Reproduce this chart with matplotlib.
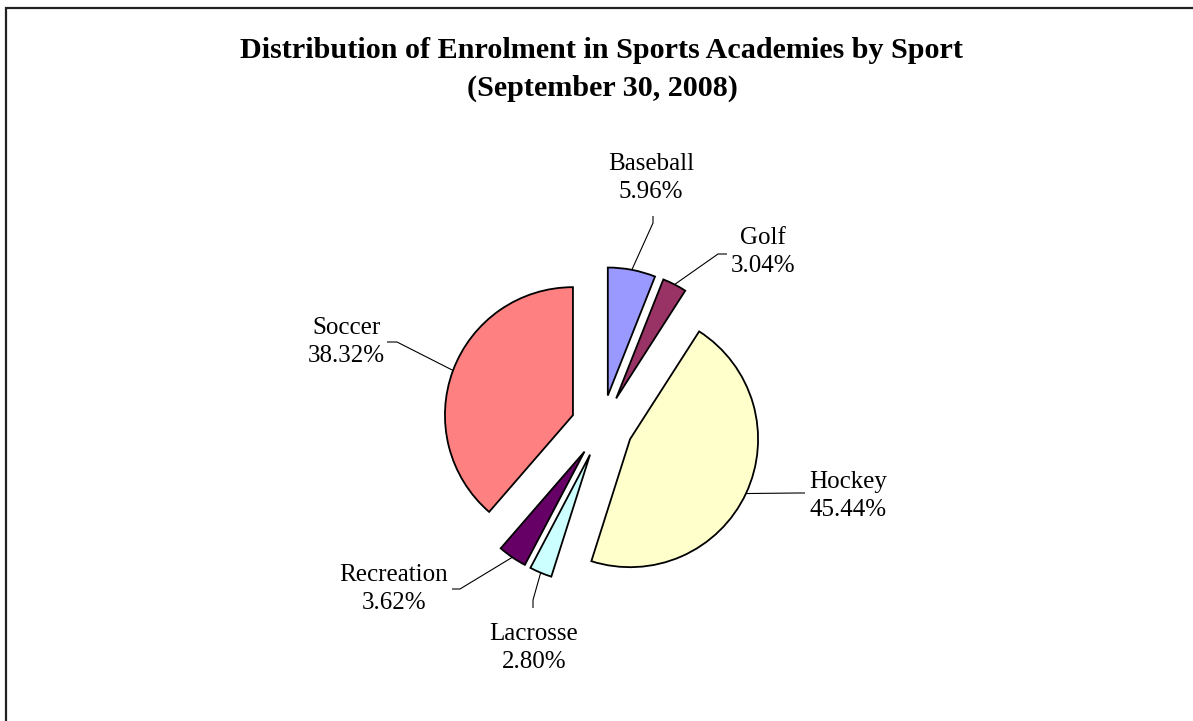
import matplotlib
matplotlib.use("Agg")
import matplotlib.pyplot as plt
import numpy as np
from matplotlib.patches import Rectangle

plt.rcParams["font.family"] = ["Liberation Serif", "DejaVu Serif"]

W, H = 1193, 721

sports = ["Baseball", "Golf", "Hockey", "Lacrosse", "Recreation", "Soccer"]
shares = [5.96, 3.04, 45.44, 2.80, 3.62, 38.32]
share_labels = ["5.96%", "3.04%", "45.44%", "2.80%", "3.62%", "38.32%"]
colors = ["#9999FF", "#993366", "#FFFFCC", "#CCFFFF", "#660066", "#FF8080"]

# layout, in image pixels (y measured down from the top)
PIE_CENTER = (602, 426)
PIE_RADIUS = 128
EXPLODE = 31
label_pos = {
    "Baseball": (651, 178), "Golf": (763, 252), "Hockey": (848, 496),
    "Lacrosse": (534, 648), "Recreation": (394, 589), "Soccer": (346, 342),
}
# leader line points from the text towards the wedge
leader_knees = {
    "Baseball": [(653, 216), (653, 223)],
    "Golf": [(727, 254), (718, 254)],
    "Hockey": [(805, 493), (798, 493)],
    "Lacrosse": [(533, 608), (533, 600)],
    "Recreation": [(452, 589), (460, 589)],
    "Soccer": [(387, 342), (397, 342)],
}


def flip(y):
    return H - y


fig = plt.figure(figsize=(W / 100, H / 100), dpi=100)
ax = fig.add_axes([0, 0, 1, 1])

wedges, _ = ax.pie(
    shares, colors=colors, startangle=90, counterclock=False,
    explode=[EXPLODE] * len(shares), radius=PIE_RADIUS,
    center=(PIE_CENTER[0], flip(PIE_CENTER[1])),
    wedgeprops=dict(edgecolor="black", linewidth=1.3),
)
ax.set_xlim(0, W)
ax.set_ylim(0, H)
ax.set_aspect("equal")
ax.axis("off")

for w, name, pct in zip(wedges, sports, share_labels):
    mid = np.deg2rad((w.theta1 + w.theta2) / 2)
    ax_x = w.center[0] + w.r * np.cos(mid)
    ax_y = w.center[1] + w.r * np.sin(mid)
    pts = [(x, flip(y)) for x, y in leader_knees[name]] + [(ax_x, ax_y)]
    xs, ys = zip(*pts)
    ax.plot(xs, ys, color="black", linewidth=0.8, solid_capstyle="butt")
    tx, ty = label_pos[name]
    ax.text(tx, flip(ty), f"{name}\n{pct}", ha="center", va="center",
            multialignment="center", fontsize=18, linespacing=1.4)

ax.text(602, flip(50), "Distribution of Enrolment in Sports Academies by Sport",
        ha="center", va="center", fontsize=21.7, fontweight="bold")
ax.text(602, flip(88), "(September 30, 2008)",
        ha="center", va="center", fontsize=21.7, fontweight="bold")

# chart area frame (right and bottom sides fall outside the image)
fig.patches.append(Rectangle((6 / W, -0.1), 1.2, 1 - 8 / H + 0.1,
                             transform=fig.transFigure, fill=False,
                             edgecolor="#222222", linewidth=1.6))

fig.savefig("out.png", dpi=100)
